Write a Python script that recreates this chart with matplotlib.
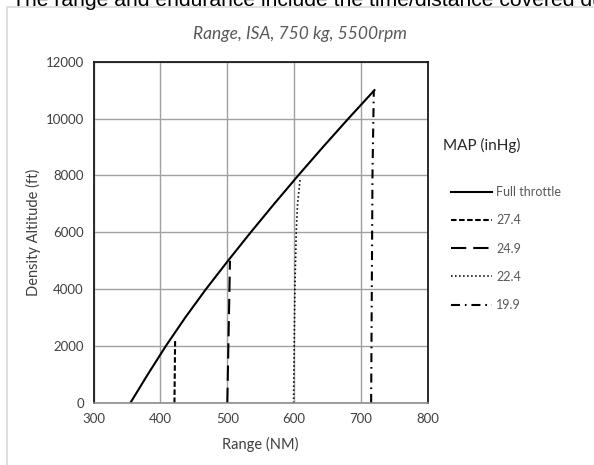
import matplotlib
matplotlib.use("Agg")
import matplotlib.pyplot as plt
from matplotlib.patches import Rectangle

# data
full_range = [355, 381, 408, 437, 468, 501, 535, 570, 606, 643, 681, 720]
full_alt = [0, 1000, 2000, 3000, 4000, 5000, 6000, 7000, 8000, 9000, 10000, 11000]

map_labels = ["27.4", "24.9", "22.4", "19.9"]
map_range = [
    [421, 422],
    [500, 504],
    [599, 600, 601, 603, 605, 609],
    [715, 716, 717, 719],
]
map_alt = [
    [0, 2200],
    [0, 5000],
    [0, 2000, 4000, 6000, 7000, 7900],
    [0, 4000, 8000, 11000],
]

x_ticks = [300, 400, 500, 600, 700, 800]
y_ticks = [0, 2000, 4000, 6000, 8000, 10000, 12000]

plt.rcParams["font.family"] = ["Lato", "DejaVu Sans"]
plt.rcParams["lines.scale_dashes"] = False

fig = plt.figure(figsize=(5.94, 4.65), dpi=100)
ax = fig.add_axes([93.5 / 594, 1 - 403 / 465, (428 - 93.5) / 594, (403 - 61.7) / 465])

# page text cut off at the top (as in the original) and the chart frame
fig.text(12 / 594, 1 - 6 / 465, "The range and endurance include the time/distance covered during climb",
         fontsize=15.2, family="Liberation Sans", va="baseline", ha="left", color="black")
fig.patches.append(Rectangle((6.5 / 594, -0.01), 1.0, 1 - 7.5 / 465 + 0.01,
                             transform=fig.transFigure, fill=False,
                             edgecolor="#d9d9d9", linewidth=1.2))

dash_styles = [
    (0, (4, 1.8)),
    (0, (11, 5)),
    (0, (1.1, 1.8)),
    (0, (6.5, 3.5, 1.2, 3.5)),
]
widths = [1.5, 1.5, 1.2, 1.5]

ax.plot(full_range, full_alt, color="black", lw=1.5, label="Full throttle")
for r, a, lab, ls, w in zip(map_range, map_alt, map_labels, dash_styles, widths):
    ax.plot(r, a, color="black", lw=w, linestyle=ls, label=lab)

ax.set_xlim(300, 800)
ax.set_ylim(0, 12000)
ax.set_xticks(x_ticks)
ax.set_yticks(y_ticks)
ax.grid(True, color="#a0a0a0", lw=1)
ax.set_axisbelow(True)
ax.tick_params(length=0, labelsize=9.5, labelcolor="#404040", pad=7)
for s in ["left", "top", "right"]:
    ax.spines[s].set_color("#1a1a1a")
    ax.spines[s].set_linewidth(1.3)
ax.spines["bottom"].set_color("#8c8c8c")
ax.spines["bottom"].set_linewidth(1.2)

ax.set_xlabel("Range (NM)", fontsize=10.5, color="#404040", labelpad=9)
ax.set_ylabel("Density Altitude (ft)", fontsize=10.5, color="#404040", labelpad=3)

fig.text(300 / 594, 1 - 34 / 465, "Range, ISA, 750 kg, 5500rpm", fontsize=12.5,
         style="italic", color="#595959", ha="center", va="center")

fig.text(443 / 594, 1 - 145 / 465, "MAP (inHg)", fontsize=11, color="#262626",
         ha="left", va="center")

leg = ax.legend(loc="upper left", bbox_to_anchor=(451 / 594, 1 - 186 / 465),
                bbox_transform=fig.transFigure, frameon=False, fontsize=9,
                handlelength=3.3, handletextpad=0.3, labelspacing=1.3,
                borderaxespad=0, borderpad=0)
for t in leg.get_texts():
    t.set_color("#595959")

fig.savefig("out.png", dpi=100)
